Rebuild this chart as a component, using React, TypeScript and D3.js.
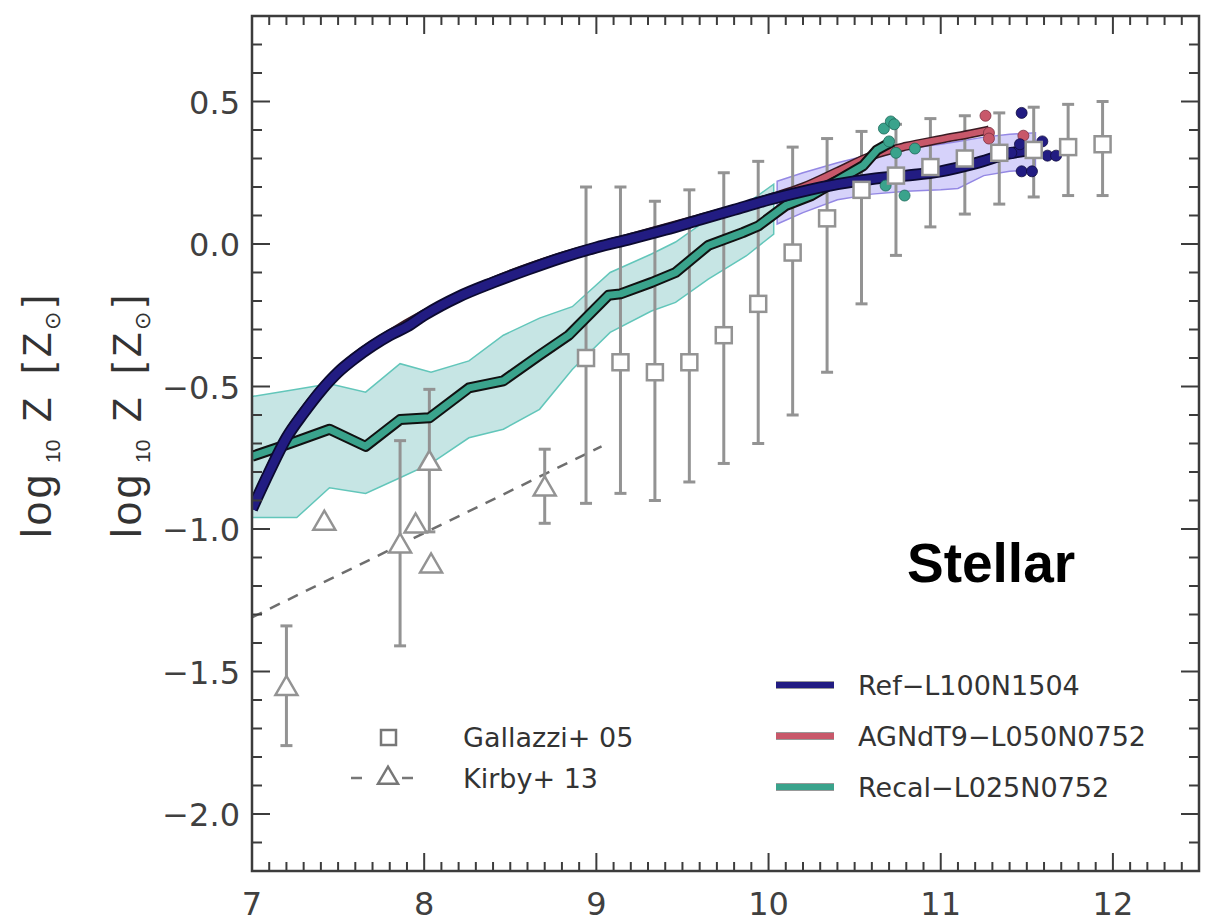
import React from 'react';
import * as d3 from 'd3';

// ---------- data ----------
const refX = [7.0, 7.1, 7.2, 7.3, 7.4, 7.5, 7.6, 7.7, 7.8, 7.9, 8.0, 8.2, 8.4, 8.6, 8.8, 9.0, 9.2, 9.4, 9.6, 9.8, 10.0, 10.2, 10.4, 10.6, 10.8, 11.0, 11.2, 11.4, 11.52];
const refY = [-0.93, -0.8, -0.68, -0.593, -0.515, -0.45, -0.4, -0.357, -0.32, -0.29, -0.25, -0.185, -0.135, -0.09, -0.048, -0.012, 0.018, 0.05, 0.085, 0.12, 0.155, 0.185, 0.21, 0.228, 0.24, 0.255, 0.283, 0.318, 0.33];

const agnX = [7.0, 7.2, 7.4, 7.6, 7.8, 8.0, 8.4, 8.8, 9.2, 9.6, 9.9, 10.0, 10.2, 10.4, 10.6, 10.8, 11.0, 11.2, 11.28];
const agnY = [-0.925, -0.675, -0.51, -0.395, -0.315, -0.245, -0.13, -0.043, 0.023, 0.09, 0.14, 0.16, 0.2, 0.255, 0.31, 0.343, 0.367, 0.39, 0.4];

const recalX = [7.0, 7.22, 7.45, 7.66, 7.86, 8.03, 8.26, 8.46, 8.67, 8.84, 9.07, 9.14, 9.32, 9.46, 9.65, 9.85, 9.94, 10.1, 10.25, 10.45, 10.55, 10.63, 10.72];
const recalY = [-0.745, -0.7, -0.65, -0.71, -0.616, -0.61, -0.505, -0.48, -0.39, -0.32, -0.18, -0.175, -0.135, -0.1, -0.005, 0.04, 0.063, 0.135, 0.17, 0.24, 0.275, 0.33, 0.36];

const recalBandX = [7.0, 7.26, 7.45, 7.66, 7.86, 8.04, 8.26, 8.46, 8.67, 8.86, 9.08, 9.32, 9.46, 9.65, 9.87, 10.03];
const recalBandHi = [-0.535, -0.51, -0.49, -0.52, -0.42, -0.45, -0.41, -0.32, -0.26, -0.22, -0.1, -0.035, 0.007, 0.088, 0.14, 0.21];
const recalBandLo = [-0.96, -0.96, -0.855, -0.875, -0.82, -0.77, -0.68, -0.65, -0.58, -0.44, -0.31, -0.235, -0.205, -0.123, -0.042, 0.035];

const refBandX = [10.05, 10.2, 10.4, 10.6, 10.8, 11.0, 11.1, 11.25, 11.4, 11.55];
const refBandHi = [0.22, 0.25, 0.285, 0.315, 0.335, 0.35, 0.36, 0.375, 0.385, 0.39];
const refBandLo = [0.07, 0.11, 0.155, 0.175, 0.185, 0.19, 0.195, 0.24, 0.255, 0.26];

const recalDotX = [10.67, 10.71, 10.73, 10.7, 10.74, 10.85, 10.68, 10.79];
const recalDotY = [0.405, 0.43, 0.42, 0.36, 0.32, 0.335, 0.205, 0.17];
const agnDotX = [11.26, 11.28, 11.28, 11.48];
const agnDotY = [0.45, 0.39, 0.37, 0.38];
const refDotX = [11.47, 11.46, 11.59, 11.62, 11.47, 11.53, 11.41, 11.67];
const refDotY = [0.46, 0.35, 0.36, 0.31, 0.255, 0.255, 0.32, 0.31];

const gallX = [8.94, 9.14, 9.34, 9.54, 9.74, 9.94, 10.14, 10.34, 10.54, 10.74, 10.94, 11.14, 11.34, 11.54, 11.74, 11.94];
const gallMed = [-0.4, -0.415, -0.45, -0.415, -0.32, -0.21, -0.03, 0.09, 0.19, 0.24, 0.27, 0.3, 0.32, 0.33, 0.34, 0.35];
const gallHi = [0.2, 0.2, 0.15, 0.19, 0.25, 0.29, 0.34, 0.37, 0.395, 0.42, 0.44, 0.45, 0.46, 0.48, 0.49, 0.5];
const gallLo = [-0.91, -0.875, -0.9, -0.835, -0.77, -0.7, -0.6, -0.45, -0.21, -0.04, 0.06, 0.105, 0.14, 0.165, 0.17, 0.17];

const kirbyX = [7.2, 7.42, 7.86, 7.95, 8.03, 8.04, 8.7];
const kirbyY = [-1.56, -0.98, -1.06, -0.99, -0.77, -1.13, -0.86];
const kirbyHi = [-1.34, null, -0.69, null, -0.51, null, -0.72];
const kirbyLo = [-1.76, null, -1.41, null, -1.01, null, -0.98];
const kirbyFitX = [7.0, 9.03];
const kirbyFitY = [-1.31, -0.71];

const xTicks = [7, 8, 9, 10, 11, 12];
const yTicks = [-2.0, -1.5, -1.0, -0.5, 0.0, 0.5];

const simLabels = ['Ref−L100N1504', 'AGNdT9−L050N0752', 'Recal−L025N0752'];
const simColors = ['#221c82', '#c8586a', '#3aa38c'];
const obsLabels = ['Gallazzi+ 05', 'Kirby+ 13'];

// ---------- layout ----------
const W = 1208, H = 924;
const L = 252, R = 1199, T = 16, B = 871;

export default function App() {
  const x = d3.scaleLinear().domain([7, 12.5]).range([L, R]);
  const y = d3.scaleLinear().domain([-2.2, 0.8]).range([B, T]);
  const fmt = d3.format('.1f');

  const line = (xs: number[], ys: number[], curve: any = d3.curveLinear) =>
    d3.line<number>().x((_, i) => x(xs[i])).y((_, i) => y(ys[i])).curve(curve)(xs) || '';
  const area = (xs: number[], hi: number[], lo: number[]) =>
    d3.area<number>().x((_, i) => x(xs[i])).y0((_, i) => y(lo[i])).y1((_, i) => y(hi[i]))(xs) || '';

  const minorX = d3.range(70, 126).map((v) => v / 10);
  const minorY = d3.range(-22, 9).map((v) => v / 10);

  const tri = (cx: number, cy: number, w = 22, h = 19) =>
    `M${cx - w / 2},${cy + h / 3} L${cx + w / 2},${cy + h / 3} L${cx},${cy - (2 * h) / 3} Z`;

  const grey = '#939393';
  const axisCol = '#3c3c3c';

  const yLabel = (bx: number) => (
    <text transform="rotate(-90)" fontFamily="'Liberation Sans', Arial, sans-serif" fill="#333" key={bx}>
      <tspan x={-538} y={bx} fontSize={43} letterSpacing={3}>log</tspan>
      <tspan x={-463} y={bx + 9} fontSize={21}>10</tspan>
      <tspan x={-422} y={bx} fontSize={40}>Z</tspan>
      <tspan x={-374} y={bx} fontSize={40}>[</tspan>
      <tspan x={-357} y={bx} fontSize={40}>Z</tspan>
      <tspan x={-330} y={bx + 9} fontSize={22}>⊙</tspan>
      <tspan x={-306} y={bx} fontSize={40}>]</tspan>
    </text>
  );

  return (
    <svg width={W} height={H} style={{ position: 'absolute', left: 0, top: 0, background: '#fff' }}>
      <defs>
        <clipPath id="plot">
          <rect x={L} y={T} width={R - L} height={B - T} />
        </clipPath>
      </defs>

      {/* y labels */}
      {yLabel(51)}
      {yLabel(141)}

      <g clipPath="url(#plot)">
        {/* bands */}
        <path d={area(refBandX, refBandHi, refBandLo)} fill="#d6d2fa" stroke="#9488e4" strokeWidth={1.5} />
        <path d={area(recalBandX, recalBandHi, recalBandLo)} fill="#c6e5e4" stroke="#62c6ba" strokeWidth={1.5} />

        {/* Kirby fit */}
        <path d={line(kirbyFitX, kirbyFitY)} fill="none" stroke="#6e6e6e" strokeWidth={2.5} strokeDasharray="11 9" />

        {/* error bars */}
        {gallX.map((gx, i) => (
          <g key={'ge' + i} stroke={grey} strokeWidth={3}>
            <line x1={x(gx)} x2={x(gx)} y1={y(gallHi[i])} y2={y(gallLo[i])} />
            <line x1={x(gx) - 6} x2={x(gx) + 6} y1={y(gallHi[i])} y2={y(gallHi[i])} />
            <line x1={x(gx) - 6} x2={x(gx) + 6} y1={y(gallLo[i])} y2={y(gallLo[i])} />
          </g>
        ))}
        {kirbyX.map((kx, i) =>
          kirbyHi[i] === null ? null : (
            <g key={'ke' + i} stroke={grey} strokeWidth={3}>
              <line x1={x(kx)} x2={x(kx)} y1={y(kirbyHi[i] as number)} y2={y(kirbyLo[i] as number)} />
              <line x1={x(kx) - 6} x2={x(kx) + 6} y1={y(kirbyHi[i] as number)} y2={y(kirbyHi[i] as number)} />
              <line x1={x(kx) - 6} x2={x(kx) + 6} y1={y(kirbyLo[i] as number)} y2={y(kirbyLo[i] as number)} />
            </g>
          )
        )}

        {/* simulation lines */}
        <path d={line(agnX, agnY, d3.curveMonotoneX)} fill="none" stroke="#3a1a22" strokeWidth={9} strokeLinejoin="round" />
        <path d={line(agnX, agnY, d3.curveMonotoneX)} fill="none" stroke={simColors[1]} strokeWidth={6} strokeLinejoin="round" />
        <path d={line(recalX, recalY)} fill="none" stroke="#111" strokeWidth={11} strokeLinejoin="round" />
        <path d={line(recalX, recalY)} fill="none" stroke={simColors[2]} strokeWidth={7} strokeLinejoin="round" />
        <path d={line(refX, refY, d3.curveMonotoneX)} fill="none" stroke="#0c0a30" strokeWidth={12} strokeLinejoin="round" />
        <path d={line(refX, refY, d3.curveMonotoneX)} fill="none" stroke={simColors[0]} strokeWidth={8.5} strokeLinejoin="round" />

        {/* dots */}
        {agnDotX.map((dx, i) => (
          <circle key={'ad' + i} cx={x(dx)} cy={y(agnDotY[i])} r={5.5} fill={simColors[1]} stroke="#7a3040" strokeWidth={0.8} />
        ))}
        {refDotX.map((dx, i) => (
          <circle key={'rd' + i} cx={x(dx)} cy={y(refDotY[i])} r={5.5} fill={simColors[0]} stroke="#100c40" strokeWidth={0.8} />
        ))}
        {recalDotX.map((dx, i) => (
          <circle key={'cd' + i} cx={x(dx)} cy={y(recalDotY[i])} r={5.5} fill={simColors[2]} stroke="#1f6a5a" strokeWidth={0.8} />
        ))}

        {/* observational symbols */}
        {gallX.map((gx, i) => (
          <rect key={'gs' + i} x={x(gx) - 8} y={y(gallMed[i]) - 8} width={16} height={16} fill="#fff" stroke={grey} strokeWidth={2.5} />
        ))}
        {kirbyX.map((kx, i) => (
          <path key={'kt' + i} d={tri(x(kx), y(kirbyY[i]))} fill="#fff" stroke={grey} strokeWidth={2.5} strokeLinejoin="miter" />
        ))}
      </g>

      {/* frame and ticks */}
      <g stroke={axisCol} strokeWidth={2}>
        {minorX.map((v) => {
          const major = Math.abs(v - Math.round(v)) < 1e-6;
          const len = major ? 18 : 9;
          return (
            <g key={'mx' + v}>
              <line x1={x(v)} x2={x(v)} y1={B} y2={B - len} />
              <line x1={x(v)} x2={x(v)} y1={T} y2={T + len} />
            </g>
          );
        })}
        {minorY.map((v) => {
          const major = Math.abs(v * 2 - Math.round(v * 2)) < 1e-6;
          const len = major ? 18 : 10;
          return (
            <g key={'my' + v}>
              <line x1={L} x2={L + len} y1={y(v)} y2={y(v)} />
              <line x1={R} x2={R - len} y1={y(v)} y2={y(v)} />
            </g>
          );
        })}
      </g>
      <rect x={L} y={T} width={R - L} height={B - T} fill="none" stroke={axisCol} strokeWidth={2.5} />

      {/* tick labels */}
      <g fontFamily="'DejaVu Sans', sans-serif" fontSize={32} fill="#404040">
        {xTicks.map((v) => (
          <text key={'xt' + v} x={x(v)} y={915} textAnchor="middle">{v}</text>
        ))}
        {yTicks.map((v) => (
          <text key={'yt' + v} x={240} y={y(v) + 12} textAnchor="end">{fmt(v)}</text>
        ))}
      </g>

      {/* Stellar */}
      <text x={907} y={582} fontFamily="'Liberation Sans', Arial, sans-serif" fontWeight="bold" fontSize={55} fill="#000">Stellar</text>

      {/* simulation legend */}
      <g fontFamily="'DejaVu Sans', sans-serif" fontSize={27} fill="#333">
        {simLabels.map((s, i) => (
          <g key={s}>
            <line x1={776} x2={834} y1={685 + i * 51} y2={685 + i * 51} stroke="#333" strokeWidth={8} strokeOpacity={0.5} />
            <line x1={776} x2={834} y1={685 + i * 51} y2={685 + i * 51} stroke={simColors[i]} strokeWidth={6} />
            <text x={858} y={685 + i * 51 + 10}>{s}</text>
          </g>
        ))}
      </g>

      {/* observation legend */}
      <g>
        <rect x={381} y={730} width={15} height={15} fill="#fff" stroke="#777" strokeWidth={2.5} />
        <line x1={351} x2={362} y1={778} y2={778} stroke="#777" strokeWidth={2.5} />
        <line x1={402} x2={413} y1={778} y2={778} stroke="#777" strokeWidth={2.5} />
        <path d={tri(388, 778, 20, 17)} fill="#fff" stroke="#777" strokeWidth={2.5} />
        <g fontFamily="'DejaVu Sans', sans-serif" fontSize={27} fill="#333">
          <text x={463} y={747}>{obsLabels[0]}</text>
          <text x={463} y={788}>{obsLabels[1]}</text>
        </g>
      </g>
    </svg>
  );
}
